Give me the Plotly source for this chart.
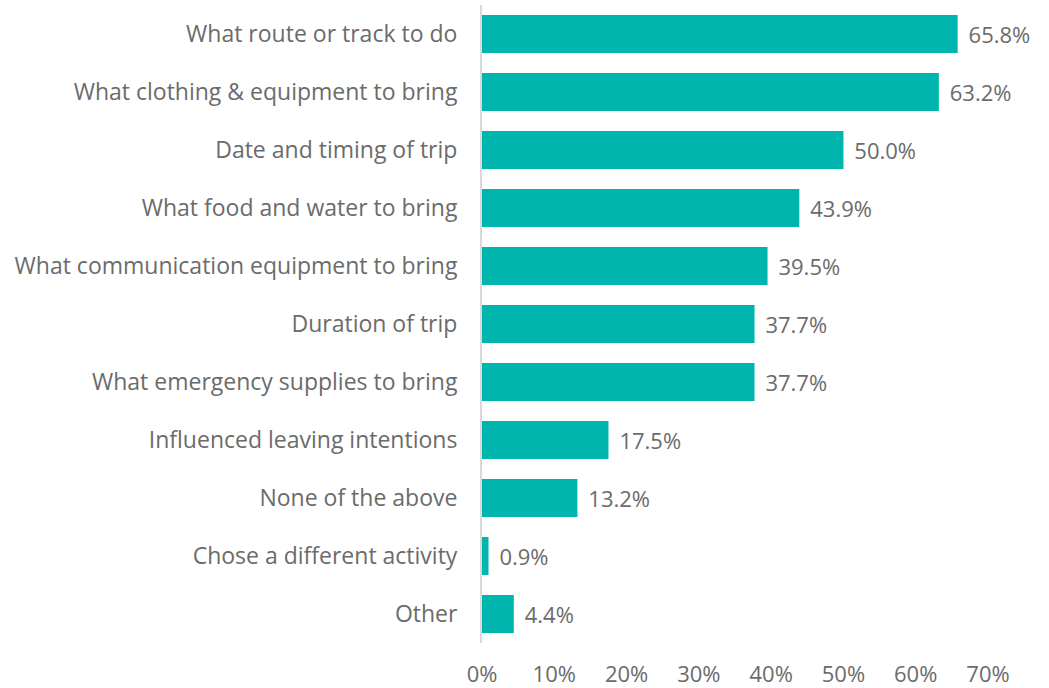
import plotly.graph_objects as go

categories = [
    "What route or track to do",
    "What clothing & equipment to bring",
    "Date and timing of trip",
    "What food and water to bring",
    "What communication equipment to bring",
    "Duration of trip",
    "What emergency supplies to bring",
    "Influenced leaving intentions",
    "None of the above",
    "Chose a different activity",
    "Other",
]
percent = [65.8, 63.2, 50.0, 43.9, 39.5, 37.7, 37.7, 17.5, 13.2, 0.9, 4.4]
tick_values = [0, 10, 20, 30, 40, 50, 60, 70]
tick_labels = [f"{v}%" for v in tick_values]

TEXT_GREY = "#6b6b6b"
FONT = "Open Sans"
SIZE = 23

fig = go.Figure(
    go.Bar(
        x=percent,
        y=categories,
        orientation="h",
        marker=dict(color="#00B5AD", line=dict(width=0)),
        text=[f"\u00a0\u200a{v:.1f}%" for v in percent],
        textposition="outside",
        textfont=dict(family=FONT, size=SIZE - 1, color=TEXT_GREY),
        constraintext="none",
        cliponaxis=False,
        hoverinfo="skip",
    )
)

fig.update_layout(
    width=1049,
    height=688,
    margin=dict(l=482, r=61, t=5, b=45, autoexpand=False),
    paper_bgcolor="white",
    plot_bgcolor="white",
    bargap=0.345,
    showlegend=False,
    font=dict(family=FONT, size=SIZE, color=TEXT_GREY),
)

fig.update_xaxes(
    range=[0, 70],
    tickvals=tick_values,
    ticktext=tick_labels,
    showgrid=False,
    zeroline=False,
    showline=False,
    ticks="",
    automargin=False,
    ticklabelstandoff=16,
    tickfont=dict(family=FONT, size=SIZE - 1, color=TEXT_GREY),
)

fig.update_yaxes(
    autorange="reversed",
    showgrid=False,
    zeroline=False,
    showline=True,
    linecolor="#d9d9d9",
    linewidth=2,
    ticks="",
    automargin=False,
    ticklabelstandoff=18,
    tickfont=dict(family=FONT, size=SIZE, color=TEXT_GREY),
)

fig.write_html("out.html")
